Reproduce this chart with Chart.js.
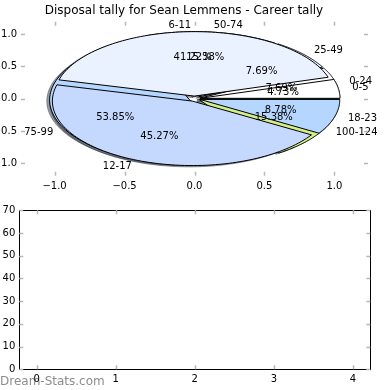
<!DOCTYPE html>
<html>
<head>
<meta charset="utf-8">
<script src="https://cdn.jsdelivr.net/npm/chart.js@4/dist/chart.umd.min.js"></script>
<style>
  body { margin: 0; background: #fff; }
  .box { position: absolute; left: 0; width: 390px; }
</style>
</head>
<body>
<div class="box" style="top:0;height:196px"><canvas id="pieChart" width="390" height="196"></canvas></div>
<div class="box" style="top:196px;height:194px"><canvas id="emptyChart" width="390" height="194"></canvas></div>
<script>
const chartTitle = 'Disposal tally for Sean Lemmens - Career tally';

// first pie: disposals per game bands
const pie1Labels = ['0-5', '6-11', '12-17', '18-23'];
const pie1Values = [7, 61, 67, 13];

// second pie: wider bands
const pie2Labels = ['0-24', '25-49', '50-74', '75-99', '100-124'];
const pie2Values = [1, 1, 2, 7, 2];

const sliceColors = ['#ffffff', '#ebf2ff', '#c5d8fd', '#b5d6ff', '#d2ee86'];

const pieTicks = [-1.0, -0.5, 0.0, 0.5, 1.0];
const lowerXTicks = [0, 1, 2, 3, 4];
const lowerYTicks = [0, 10, 20, 30, 40, 50, 60, 70];

const watermark = 'Dream-Stats.com';

Chart.defaults.font.family = 'DejaVu Sans';
Chart.defaults.font.size = 10;
Chart.defaults.color = '#000';

const EXPLODE = 0.04;

function fmt1(v) {
    return (v < 0 ? '\u2212' : '') + Math.abs(v).toFixed(1);
}

const innerTicks = {
    id: 'innerTicks',
    afterDraw(chart) {
        const { ctx, chartArea: a, scales: { x, y } } = chart;
        ctx.save();
        ctx.strokeStyle = '#b8b8b8';
        ctx.lineWidth = 1.5;
        ctx.beginPath();
        x.ticks.forEach(t => {
            const px = Math.round(x.getPixelForValue(t.value)) + 0.5;
            ctx.moveTo(px, a.top); ctx.lineTo(px, a.top + 4);
            ctx.moveTo(px, a.bottom); ctx.lineTo(px, a.bottom - 4);
        });
        y.ticks.forEach(t => {
            const py = Math.round(y.getPixelForValue(t.value)) + 0.5;
            ctx.moveTo(a.left, py); ctx.lineTo(a.left + 4, py);
            ctx.moveTo(a.right, py); ctx.lineTo(a.right - 4, py);
        });
        ctx.stroke();
        ctx.restore();
    }
};

function shade(hex) {
    const r = parseInt(hex.slice(1, 3), 16) * 0.3;
    const g = parseInt(hex.slice(3, 5), 16) * 0.3;
    const b = parseInt(hex.slice(5, 7), 16) * 0.3;
    return `rgba(${r|0},${g|0},${b|0},0.5)`;
}

function buildWedges(values, labels) {
    const total = values.reduce((s, v) => s + v, 0);
    let a = 0;
    return values.map((v, i) => {
        const a1 = a, a2 = a + v / total * 2 * Math.PI;
        a = a2;
        const mid = (a1 + a2) / 2;
        return {
            a1, a2, mid,
            cx: EXPLODE * Math.cos(mid),
            cy: EXPLODE * Math.sin(mid),
            color: sliceColors[i % sliceColors.length],
            label: labels[i],
            pct: (v / total * 100).toFixed(2) + '%'
        };
    });
}

const pieDrawer = {
    id: 'pieDrawer',
    afterDatasetsDraw(chart) {
        const { ctx, scales: { x, y } } = chart;
        const pies = [buildWedges(pie1Values, pie1Labels), buildWedges(pie2Values, pie2Labels)];

        function path(w, dx, dy) {
            ctx.beginPath();
            ctx.moveTo(x.getPixelForValue(w.cx + dx), y.getPixelForValue(w.cy + dy));
            const n = 90;
            for (let i = 0; i <= n; i++) {
                const t = w.a1 + (w.a2 - w.a1) * i / n;
                ctx.lineTo(x.getPixelForValue(w.cx + dx + Math.cos(t)),
                           y.getPixelForValue(w.cy + dy + Math.sin(t)));
            }
            ctx.closePath();
        }

        ctx.save();
        ctx.lineJoin = 'round';
        // shadows under everything
        pies.forEach(p => p.forEach(w => {
            path(w, -0.02, -0.02);
            ctx.fillStyle = shade(w.color);
            ctx.strokeStyle = shade(w.color);
            ctx.lineWidth = 1;
            ctx.fill();
            ctx.stroke();
        }));
        // second pie first, first pie on top
        [pies[1], pies[0]].forEach(p => p.forEach(w => {
            path(w, 0, 0);
            ctx.fillStyle = w.color;
            ctx.fill();
            ctx.strokeStyle = '#000';
            ctx.lineWidth = 1;
            ctx.stroke();
        }));
        // texts
        ctx.fillStyle = '#000';
        ctx.font = '10px DejaVu Sans';
        ctx.textBaseline = 'middle';
        pies.forEach(p => p.forEach(w => {
            const lx = w.cx + 1.1 * Math.cos(w.mid);
            const ly = w.cy + 1.1 * Math.sin(w.mid);
            ctx.textAlign = lx > 0 ? 'left' : 'right';
            ctx.fillText(w.label, x.getPixelForValue(lx), y.getPixelForValue(ly));
            ctx.textAlign = 'center';
            ctx.fillText(w.pct, x.getPixelForValue(w.cx + 0.6 * Math.cos(w.mid)),
                                y.getPixelForValue(w.cy + 0.6 * Math.sin(w.mid)));
        }));
        ctx.restore();
    }
};

new Chart(document.getElementById('pieChart'), {
    type: 'scatter',
    data: { datasets: [] },
    options: {
        responsive: false,
        animation: false,
        layout: { padding: { left: 0, right: 22, top: 0, bottom: 0 } },
        plugins: {
            legend: { display: false },
            tooltip: { enabled: false },
            title: {
                display: true,
                text: chartTitle,
                color: '#000',
                font: { size: 12, weight: 'normal' },
                padding: { top: 3.5, bottom: 3.8 }
            }
        },
        scales: {
            x: {
                type: 'linear', min: -1.24, max: 1.24,
                afterBuildTicks: s => { s.ticks = pieTicks.map(v => ({ value: v })); },
                afterFit: s => { s.height = 20.3; },
                grid: { display: false, drawTicks: false },
                border: { display: false },
                ticks: { padding: 5, maxRotation: 0, callback: v => fmt1(v) }
            },
            y: {
                type: 'linear', min: -1.194, max: 1.194,
                afterBuildTicks: s => { s.ticks = pieTicks.map(v => ({ value: v })); },
                afterFit: s => { s.width = 21; },
                grid: { display: false, drawTicks: false },
                border: { display: false },
                ticks: { padding: 4, callback: v => fmt1(v) }
            }
        }
    },
    plugins: [innerTicks, pieDrawer]
});

const frameAndMark = {
    id: 'frameAndMark',
    beforeDraw(chart) {
        const { ctx } = chart;
        ctx.save();
        ctx.fillStyle = '#8c8c8c';
        ctx.font = '12px DejaVu Sans';
        ctx.textAlign = 'left';
        ctx.textBaseline = 'alphabetic';
        ctx.fillText(watermark, 0, 189);
        ctx.restore();
    },
    afterDraw(chart) {
        const { ctx, chartArea: a } = chart;
        ctx.save();
        ctx.strokeStyle = '#000';
        ctx.lineWidth = 1;
        ctx.strokeRect(Math.round(a.left) + 0.5, Math.round(a.top) + 0.5,
                       Math.round(a.right - a.left), Math.round(a.bottom - a.top));
        ctx.restore();
    }
};

new Chart(document.getElementById('emptyChart'), {
    type: 'scatter',
    data: { datasets: [] },
    options: {
        responsive: false,
        animation: false,
        layout: { padding: { left: 0, right: 19.7, top: 14.3, bottom: 0 } },
        plugins: { legend: { display: false }, tooltip: { enabled: false } },
        scales: {
            x: {
                type: 'linear', min: -0.22, max: 4.22,
                afterBuildTicks: s => { s.ticks = lowerXTicks.map(v => ({ value: v })); },
                afterFit: s => { s.height = 20.7; },
                grid: { display: false, drawTicks: false },
                border: { display: false },
                ticks: { padding: 4, maxRotation: 0 }
            },
            y: {
                type: 'linear', min: 0, max: 70,
                afterBuildTicks: s => { s.ticks = lowerYTicks.map(v => ({ value: v })); },
                afterFit: s => { s.width = 19.3; },
                grid: { display: false, drawTicks: false },
                border: { display: false },
                ticks: { padding: 4 }
            }
        }
    },
    plugins: [frameAndMark, innerTicks]
});
</script>
</body>
</html>
